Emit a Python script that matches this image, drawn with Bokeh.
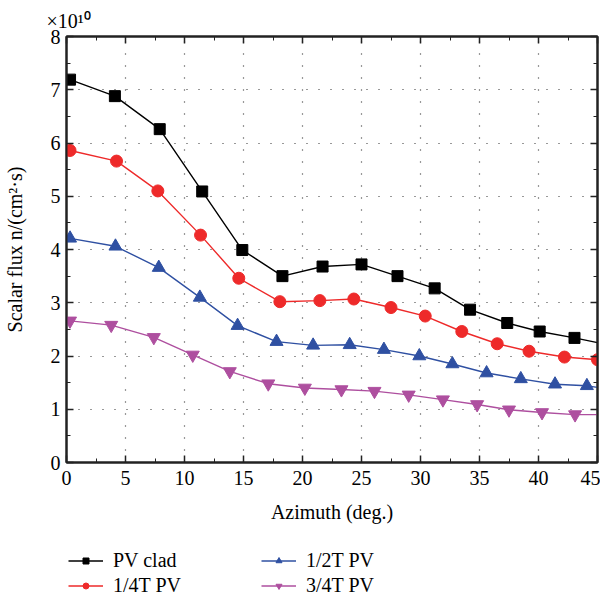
from bokeh.plotting import figure
from bokeh.layouts import column
from bokeh.models import (Range1d, SingleIntervalTicker, Legend, LegendItem,
                          LinearAxis, CustomJSTickFormatter)
from bokeh.embed import file_html
from bokeh.resources import INLINE

# ---- data ----
pv_clad_x = [0.3, 4.1, 7.9, 11.5, 14.9, 18.3, 21.7, 25.0, 28.05, 31.2, 34.2, 37.35, 40.1, 43.05, 45.0]
pv_clad_y = [7.19, 6.88, 6.26, 5.09, 3.99, 3.50, 3.68, 3.72, 3.50, 3.27, 2.87, 2.62, 2.46, 2.34, 2.25]
pv_clad_mark = 14  # number of marked points

q14_x = [0.3, 4.24, 7.74, 11.36, 14.6, 18.08, 21.47, 24.35, 27.5, 30.4, 33.5, 36.5, 39.2, 42.2, 45.0]
q14_y = [5.86, 5.66, 5.10, 4.27, 3.46, 3.02, 3.04, 3.07, 2.91, 2.75, 2.46, 2.23, 2.09, 1.98, 1.93]
q14_mark = 15

q12_x = [0.3, 4.15, 7.82, 11.3, 14.5, 17.8, 20.9, 24.0, 26.9, 29.9, 32.7, 35.6, 38.5, 41.4, 44.1, 45.0]
q12_y = [4.21, 4.06, 3.66, 3.10, 2.57, 2.27, 2.20, 2.21, 2.12, 2.00, 1.85, 1.68, 1.57, 1.47, 1.44, 1.41]
q12_mark = 15

q34_x = [0.3, 3.79, 7.4, 10.7, 13.84, 17.1, 20.2, 23.3, 26.1, 29.0, 31.9, 34.8, 37.5, 40.3, 43.1, 45.0]
q34_y = [2.66, 2.58, 2.35, 2.02, 1.71, 1.48, 1.40, 1.37, 1.34, 1.27, 1.18, 1.09, 0.99, 0.94, 0.90, 0.90]
q34_mark = 15

series_names = ["PV clad", "1/4T PV", "1/2T PV", "3/4T PV"]
multiplier_text = "\u00d710\u00b9\u2070"

FONT = "Liberation Serif"

p = figure(width=600, height=525, x_range=Range1d(0, 45), y_range=Range1d(0, 8),
           output_backend="svg", toolbar_location=None,
           min_border_left=66, min_border_right=3, min_border_top=36,
           min_border_bottom=62, x_axis_label="Azimuth (deg.)",
           y_axis_label="Scalar flux n/(cm\u00b2\u00b7s)",
           title=multiplier_text)
p.outline_line_color = "#222222"
p.outline_line_width = 2
p.background_fill_color = "white"
p.border_fill_color = "white"

p.title.text_font = FONT
p.title.text_font_size = "20px"
p.title.text_font_style = "normal"
p.title.text_color = "black"
p.title.align = "left"
p.title.offset = -20
p.title.standoff = 10

for ax, tick_int in ((p.xaxis[0], 5), (p.yaxis[0], 1)):
    ax.ticker = SingleIntervalTicker(interval=tick_int, num_minor_ticks=2)
    ax.major_tick_in = 7
    ax.major_tick_out = 0
    ax.minor_tick_in = 4
    ax.minor_tick_out = 0
    ax.axis_line_width = 2
    ax.axis_line_color = "#222222"
    ax.major_tick_line_color = "#222222"
    ax.minor_tick_line_color = "#222222"
    ax.major_tick_line_width = 1.5
    ax.major_label_text_font = FONT
    ax.major_label_text_font_size = "20px"
    ax.major_label_text_color = "black"
    ax.axis_label_text_font = FONT
    ax.axis_label_text_font_size = "20px"
    ax.axis_label_text_font_style = "normal"
    ax.axis_label_text_color = "black"

p.xaxis.major_label_standoff = 8
p.xaxis.axis_label_standoff = 13
p.yaxis.major_label_standoff = 6
p.yaxis.axis_label_standoff = 22

# mirror axes (ticks only) on top and right
for side, tick_int in (("above", 5), ("right", 1)):
    ax = LinearAxis(ticker=SingleIntervalTicker(interval=tick_int, num_minor_ticks=2),
                    major_tick_in=7, major_tick_out=0, minor_tick_in=4, minor_tick_out=0,
                    axis_line_width=2, axis_line_color="#222222",
                    major_tick_line_color="#222222", minor_tick_line_color="#222222",
                    major_tick_line_width=1.5,
                    formatter=CustomJSTickFormatter(code="return ''"),
                    major_label_standoff=0)
    p.add_layout(ax, side)

p.xgrid.ticker = SingleIntervalTicker(interval=5)
p.ygrid.ticker = SingleIntervalTicker(interval=1)
for g in (p.xgrid[0], p.ygrid[0]):
    g.grid_line_color = "#333333"
    g.grid_line_dash = "1 11"
    g.grid_line_width = 1.2

colors = ["#000000", "#ee2a2a", "#2f50a2", "#ae4f9f"]
markers = ["square", "circle", "triangle", "inverted_triangle"]
sizes = [11, 12, 13, 13]
xs = [pv_clad_x, q14_x, q12_x, q34_x]
ys = [pv_clad_y, q14_y, q12_y, q34_y]
nmark = [pv_clad_mark, q14_mark, q12_mark, q34_mark]

for c, m, s, x, y, n in zip(colors, markers, sizes, xs, ys, nmark):
    p.line(x, y, line_color=c, line_width=1.4)
    p.scatter(x[:n], y[:n], marker=m, size=s, fill_color=c, line_color=c)

# ---- legend strip below the chart (its ranges keep the copies out of view) ----
lg = figure(width=600, height=74, x_range=Range1d(0, 45), y_range=Range1d(100, 101),
            output_backend="svg", toolbar_location=None,
            x_axis_type=None, y_axis_type=None, min_border=0)
lg.outline_line_color = None
lg.xgrid.visible = False
lg.ygrid.visible = False

items = []
for name, c, m, x, y, n in zip(series_names, colors, markers, xs, ys, nmark):
    lr = lg.line(x, y, line_color=c, line_width=1.4)
    sr = lg.scatter(x[:n], y[:n], marker=m, size=7, fill_color=c, line_color=c)
    items.append(LegendItem(label=name, renderers=[lr, sr]))

legend = Legend(items=items, orientation="vertical", nrows=2,
                location=(2, 2), margin=0, padding=0,
                glyph_width=35, glyph_height=15, label_standoff=10,
                label_width=146, label_height=22, spacing=2,
                label_text_font=FONT, label_text_font_size="20px",
                label_text_color="black",
                border_line_color=None, background_fill_alpha=0)
lg.add_layout(legend)

layout = column(p, lg, spacing=0)
open("out.html", "w").write(file_html(layout, INLINE))
